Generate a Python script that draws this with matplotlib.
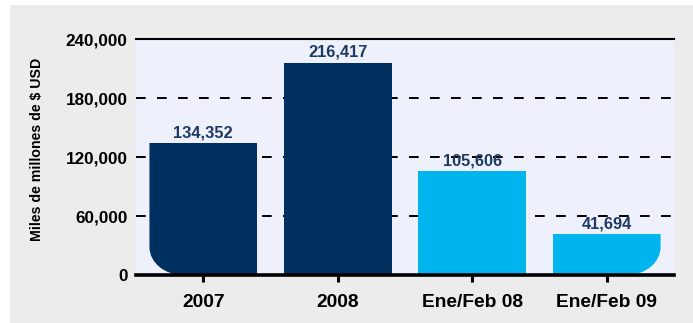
import matplotlib
matplotlib.use("Agg")
import matplotlib.pyplot as plt
from matplotlib.path import Path
from matplotlib.patches import PathPatch, Rectangle

categories = ["2007", "2008", "Ene/Feb 08", "Ene/Feb 09"]
values = [134352, 216417, 105606, 41694]
value_labels = ["134,352", "216,417", "105,606", "41,694"]
bar_colors = ["#00305f", "#00305f", "#00b4ee", "#00b4ee"]
yticks = [0, 60000, 120000, 180000, 240000]
ytick_labels = ["0", "60,000", "120,000", "180,000", "240,000"]
ylabel = "Miles de millones de $ USD"

W, H = 693, 323
fig = plt.figure(figsize=(W / 100, H / 100), dpi=100)
fig.patch.set_facecolor("white")
fig.patches.append(Rectangle((10 / W, 0), 1 - 10 / W, (H - 5) / H,
                             transform=fig.transFigure, facecolor="#ececec",
                             edgecolor="none", zorder=-10))

plt.rcParams["font.family"] = ["Liberation Sans", "DejaVu Sans"]

left, right, top, bottom = 136, 674, 39.5, 275
ax = fig.add_axes([left / W, (H - bottom) / H, (right - left) / W, (bottom - top) / H])
ax.set_facecolor("#eef0fb")
ax.set_xlim(-0.5, 3.5)
ax.set_ylim(0, 240000)

x = list(range(len(categories)))
width = 0.8
bars = ax.bar(x, values, width=width, color=bar_colors, zorder=2)

# rounded clip region (bottom-left of first bar, bottom-right of last bar)
x0 = x[0] - width / 2
x1 = x[-1] + width / 2
rx, ry = 0.25, 28500
k = 0.5523
ymax = 250000
verts = [
    (x0, ymax), (x0, ry),
    (x0, ry * (1 - k)), (x0 + rx * (1 - k), 0), (x0 + rx, 0),
    (x1 - rx, 0),
    (x1 - rx * (1 - k), 0), (x1, ry * (1 - k)), (x1, ry),
    (x1, ymax), (x0, ymax),
]
codes = [Path.MOVETO, Path.LINETO,
         Path.CURVE4, Path.CURVE4, Path.CURVE4,
         Path.LINETO,
         Path.CURVE4, Path.CURVE4, Path.CURVE4,
         Path.LINETO, Path.CLOSEPOLY]
clip = PathPatch(Path(verts, codes), transform=ax.transData, facecolor="none", edgecolor="none")
for b in bars:
    b.set_clip_path(clip)

# grid lines
for yv in yticks[1:-1]:
    ln = ax.axhline(yv, color="black", lw=1.4, zorder=1)
    ln.set_dashes((5.0, 5.8))
ax.axhline(yticks[-1], color="black", lw=1.5, zorder=1, clip_on=False)

for s in ["left", "right", "top"]:
    ax.spines[s].set_visible(False)
ax.spines["bottom"].set_linewidth(2.6)
ax.spines["bottom"].set_zorder(3)

ax.set_yticks(yticks)
ax.set_yticklabels(ytick_labels, fontsize=12.3, fontweight="bold")
ax.tick_params(axis="y", length=0, pad=6)
ax.set_xticks(x)
ax.set_xticklabels(categories, fontsize=13.8, fontweight="bold")
ax.tick_params(axis="x", length=5, width=2.2, direction="out", pad=9)

for xi, v, lab in zip(x, values, value_labels):
    ax.annotate(lab, (xi, v), xytext=(0, 2), textcoords="offset points",
                ha="center", va="bottom", fontsize=11.8, fontweight="bold",
                color="#1c3a63", zorder=4)

fig.text(37 / W, 1 - 149 / H, ylabel, rotation=90, ha="center", va="center",
         fontsize=10.2, fontweight="bold")

fig.savefig("out.png", dpi=100, facecolor=fig.get_facecolor())
